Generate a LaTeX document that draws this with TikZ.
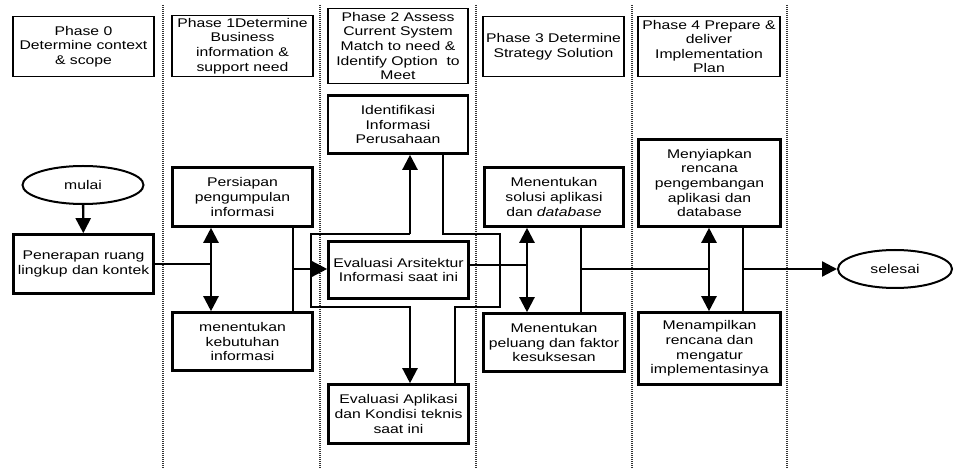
\documentclass[tikz,border=0pt]{standalone}
\usepackage{fontspec}
\setmainfont[FakeStretch=1.25]{Liberation Sans}
\usetikzlibrary{arrows.meta,shapes.geometric}
\newcommand{\fsz}{\fontsize{12.6}{14.6}\selectfont}
\begin{document}
\begin{tikzpicture}[x=1pt,y=-1pt,
  hdr/.style={draw, line width=1.3pt, align=center, inner sep=1pt, font=\fsz, text=black},
  proc/.style={draw, line width=2.6pt, align=center, inner sep=1pt, font=\fsz, text=black},
  term/.style={draw, ellipse, line width=2pt, inner sep=0pt, font=\fsz, text=black},
  conn/.style={line width=2.3pt, line join=miter},
  arr/.style={conn, -{Triangle[length=15pt,width=15pt]}},
  darr/.style={conn, {Triangle[length=15pt,width=15pt]}-{Triangle[length=15pt,width=15pt]}},
  lane/.style={line width=1.2pt, black!80, dash pattern=on 1pt off 1pt}]
\useasboundingbox (0,0) rectangle (954,470);
\fill[white] (0,0) rectangle (954,470);

% swimlane separators
\foreach \lx in {163,320,476,632,787} \draw[lane] (\lx,5) -- (\lx,468);

% phase headers
\node[hdr, minimum width=141pt, minimum height=60pt] (h0) at (83.5,46.5) {Phase 0\\Determine context\\\& scope};
\node[hdr, minimum width=141pt, minimum height=61pt] (h1) at (242.5,46) {Phase 1Determine\\Business\\information \&\\support need};
\node[hdr, minimum width=140pt, minimum height=75pt] (h2) at (398,46) {Phase 2 Assess\\Current System\\Match to need \&\\Identify Option\ \ to\\Meet};
\node[hdr, minimum width=141pt, minimum height=60pt] (h3) at (553.5,46.5) {Phase 3 Determine\\Strategy Solution};
\node[hdr, minimum width=142pt, minimum height=60pt] (h4) at (709,46.5) {Phase 4 Prepare \&\\deliver\\Implementation\\Plan};

% terminals
\node[term, minimum width=121pt, minimum height=38pt] (mul) at (83,185) {mulai};
\node[term, minimum width=114pt, minimum height=38pt] (sel) at (895,269) {selesai};

% process boxes
\node[proc, minimum width=140pt, minimum height=58pt] (idf) at (398,124.5) {Identifikasi\\Informasi\\Perusahaan};
\node[proc, minimum width=140pt, minimum height=59pt] (pen) at (83.5,264) {Penerapan ruang\\lingkup dan kontek};
\node[proc, minimum width=140pt, minimum height=59pt] (pers) at (242.5,197) {Persiapan\\pengumpulan\\informasi};
\node[proc, minimum width=140pt, minimum height=58pt] (keb) at (242.5,341.5) {menentukan\\kebutuhan\\informasi};
\node[proc, minimum width=140pt, minimum height=57pt] (ars) at (398.5,270) {Evaluasi Arsitektur\\Informasi saat ini};
\node[proc, minimum width=140pt, minimum height=59pt] (apl) at (398.5,414) {Evaluasi Aplikasi\\dan Kondisi teknis\\saat ini};
\node[proc, minimum width=139pt, minimum height=59pt] (sol) at (554,197) {Menentukan\\solusi aplikasi\\dan \textit{database}};
\node[proc, minimum width=141pt, minimum height=58pt] (pel) at (554,342.5) {Menentukan\\peluang dan faktor\\kesuksesan};
\node[proc, minimum width=142pt, minimum height=87pt] (meny) at (709.5,183) {Menyiapkan\\rencana\\pengembangan\\aplikasi dan\\database};
\node[proc, minimum width=142pt, minimum height=72pt] (mnp) at (709.5,348.5) {Menampilkan\\rencana dan\\mengatur\\implementasinya};

% junction coordinates
\coordinate (j1) at (211,264);
\coordinate (j2) at (293,269);
\coordinate (fl1) at (410,234);
\coordinate (fl2) at (311,234);
\coordinate (fl3) at (311,307);
\coordinate (fl4) at (410,307);
\coordinate (fr1) at (443,234);
\coordinate (fr2) at (500,234);
\coordinate (fr3) at (500,307);
\coordinate (fr4) at (455,307);
\coordinate (j3) at (527,265);
\coordinate (j4) at (581,269);
\coordinate (j5) at (709,269);
\coordinate (j6) at (743,269);

% phase 0
\draw[arr] (mul) -- (pen);
\draw[conn] (pen.east) -- (j1);
% phase 1
\draw[darr] (pers.south -| j1) -- (keb.north -| j1);
\draw[conn] (pers.south -| j2) -- (keb.north -| j2);
\draw[arr] (j2) -- (ars.west |- j2);
% phase 2
\draw[arr] (fl1) -- (idf.south -| fl1);
\draw[arr] (fl1) -- (fl2) -- (fl3) -- (fl4) -- (apl.north -| fl4);
\draw[conn] (idf.south -| fr1) -- (fr1) -- (fr2) -- (fr3) -- (fr4) -- (apl.north -| fr4);
\draw[conn] (ars.east |- j3) -- (j3);
% phase 3
\draw[darr] (sol.south -| j3) -- (pel.north -| j3);
\draw[conn] (sol.south -| j4) -- (pel.north -| j4);
\draw[conn] (j4) -- (j5);
% phase 4
\draw[darr] (meny.south -| j5) -- (mnp.north -| j5);
\draw[conn] (meny.south -| j6) -- (mnp.north -| j6);
\draw[arr] (j6) -- (sel.west);
\end{tikzpicture}
\end{document}
